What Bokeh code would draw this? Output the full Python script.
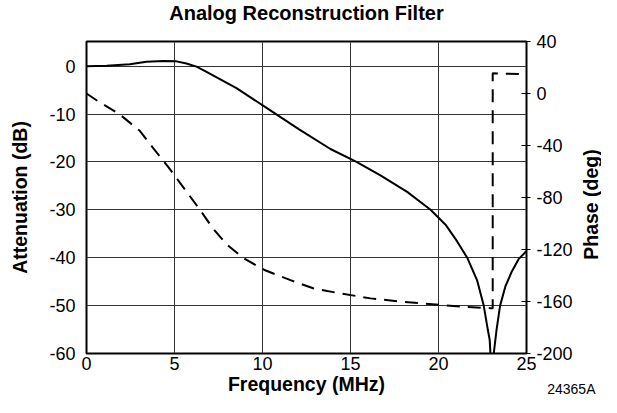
import math
from bokeh.plotting import figure
from bokeh.models import Range1d, LinearAxis, FixedTicker, Label
from bokeh.embed import file_html
from bokeh.resources import INLINE

# ---- data ----
freq_att = [0.0, 1.14, 2.46, 3.41, 4.36, 5.11, 5.68, 6.25, 6.82, 8.52, 10.23, 12.08,
            13.86, 15.34, 16.7, 18.22, 19.55, 20.4, 21.06, 21.63, 22.2, 22.57, 22.8,
            22.91, 22.95, 23.04, 23.14, 23.3, 23.5, 23.8, 24.15, 24.55, 25.0]
atten_db = [0.0, 0.07, 0.4, 0.9, 1.1, 1.0, 0.55, -0.1, -1.2, -4.6, -8.7, -13.2,
            -17.3, -20.0, -22.8, -26.25, -30.0, -33.1, -36.6, -40.0, -44.8, -50.0, -55.0,
            -57.2, -60.0, -80.0, -60.0, -55.0, -50.0, -46.0, -43.0, -40.3, -38.6]

freq_ph = [0.0, 0.57, 1.89, 3.03, 3.79, 4.64, 5.13, 5.68, 6.44, 7.2, 7.95, 8.9,
           10.15, 11.59, 12.92, 14.43, 16.14, 18.03, 20.4, 21.63, 22.95, 23.08,
           23.08, 25.0]
phase_deg = [0.0, -5.2, -16.1, -28.7, -42.0, -56.5, -65.3, -75.4, -89.4, -104.0,
             -115.9, -126.5, -136.0, -143.6, -150.0, -153.8, -157.6, -160.3, -163.0,
             -164.2, -165.1, -165.2, 15.5, 14.8]

x_ticks = [0, 5, 10, 15, 20, 25]
db_ticks = [-60, -50, -40, -30, -20, -10, 0]
ph_ticks = [-200, -160, -120, -80, -40, 0, 40]

FONT = "Liberation Sans"

p = figure(width=601, height=397, output_backend="svg", toolbar_location=None,
           x_range=Range1d(0, 25), y_range=Range1d(-60, 5.15),
           min_border_left=86, min_border_right=75, min_border_top=41,
           min_border_bottom=44)
p.extra_y_ranges = {"phase": Range1d(-200, 40)}

p.title.text = "Analog Reconstruction Filter"
p.title.align = "center"
p.title.vertical_align = "top"
p.title.text_font = FONT
p.title.text_font_size = "20px"
p.title.text_font_style = "bold"
p.title.text_color = "black"
p.title.standoff = 0

p.outline_line_color = "black"
p.outline_line_width = 2
p.background_fill_color = "white"
p.border_fill_color = "white"

# grid
p.xgrid.ticker = FixedTicker(ticks=x_ticks)
p.ygrid.ticker = FixedTicker(ticks=db_ticks)
p.xgrid.grid_line_color = "#333333"
p.ygrid.grid_line_color = "#333333"
p.xgrid.grid_line_width = 1
p.ygrid.grid_line_width = 1

# x axis
xa = p.xaxis[0]
xa.ticker = FixedTicker(ticks=x_ticks)
xa.axis_label = "Frequency (MHz)"
xa.axis_line_color = None
xa.major_tick_in = 0
xa.major_tick_out = 0
xa.minor_tick_line_color = None
xa.major_label_standoff = 3
xa.axis_label_standoff = 0

# left axis
ya = p.yaxis[0]
ya.ticker = FixedTicker(ticks=db_ticks)
ya.axis_label = "Attenuation (dB)"
ya.axis_line_color = None
ya.major_tick_in = 0
ya.major_tick_out = 0
ya.minor_tick_line_color = None
ya.major_label_standoff = 11
ya.axis_label_standoff = 15
ya.major_label_overrides = {t: str(t) for t in db_ticks}

# right axis
ra = LinearAxis(y_range_name="phase", ticker=FixedTicker(ticks=ph_ticks))
ra.axis_line_color = None
ra.major_tick_in = 5
ra.major_tick_out = 4
ra.major_tick_line_color = "black"
ra.minor_tick_line_color = None
ra.major_label_standoff = 6
ra.major_label_overrides = {t: str(t) for t in ph_ticks}
p.add_layout(ra, "right")

for ax in (xa, ya, ra):
    ax.major_label_text_font = FONT
    ax.major_label_text_font_size = "18px"
    ax.major_label_text_color = "black"
    ax.axis_label_text_font = FONT
    ax.axis_label_text_font_size = "19.5px"
    ax.axis_label_text_font_style = "bold"
    ax.axis_label_text_color = "black"

# curves
p.line(freq_att, atten_db, line_color="black", line_width=2)
p.line(freq_ph, phase_deg, y_range_name="phase", line_color="black",
       line_width=2, line_dash="13 8")

# right-side axis title (reads bottom to top), in a side panel so it is not clipped
p.add_layout(Label(x=28.69, y=-85.4, y_range_name="phase", text="Phase (deg)",
                   angle=math.pi / 2, text_align="center", text_baseline="middle",
                   text_font=FONT, text_font_size="19.5px", text_font_style="bold",
                   text_color="black"), "right")
p.add_layout(Label(x=28.92, y=-67.5, text="24365A", text_align="right",
                   text_baseline="middle", text_font=FONT, text_font_size="14px",
                   text_color="black"), "above")

open("out.html", "w").write(file_html(p, INLINE))
